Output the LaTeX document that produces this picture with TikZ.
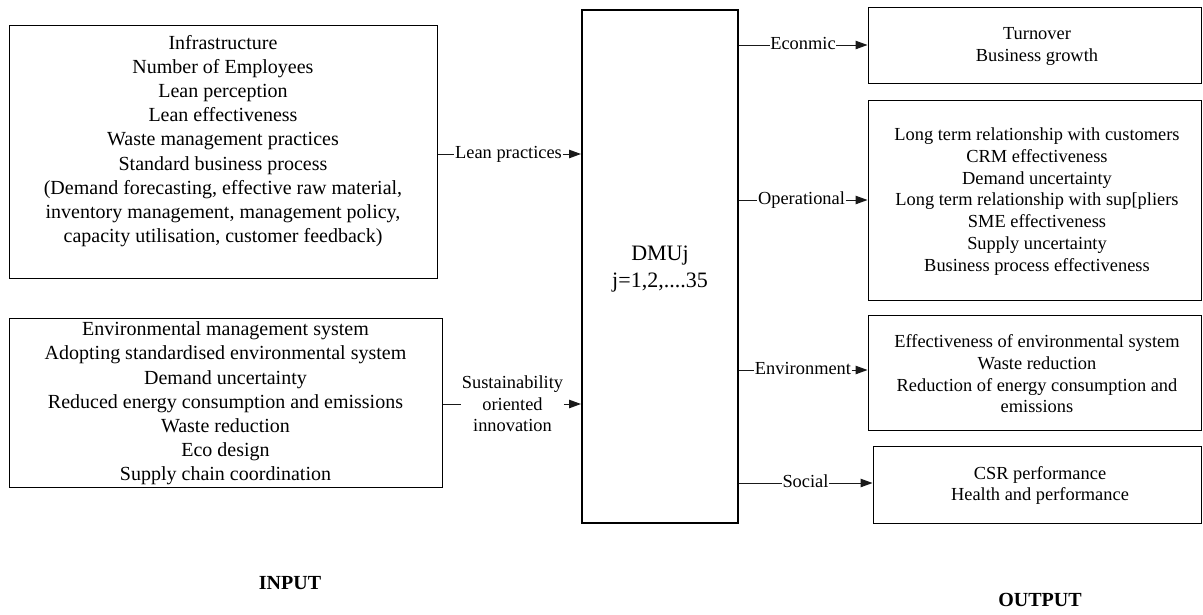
\documentclass[tikz,border=0pt]{standalone}
\usepackage{fontspec}
\setmainfont{Liberation Serif}
\usetikzlibrary{arrows.meta}
\tikzset{
  box/.style={draw=black, line width=1pt, rectangle, inner sep=0pt},
  dmubox/.style={draw=black, line width=2pt, rectangle, inner sep=0pt},
  lefttxt/.style={align=center, inner sep=0pt, font=\fontsize{20}{24.2}\selectfont},
  righttxt/.style={align=center, inner sep=0pt, font=\fontsize{18.4}{21.7}\selectfont},
  lbl/.style={align=center, inner xsep=0.5pt, inner ysep=0pt, text height=13pt, text depth=4pt, font=\fontsize{18.4}{21.5}\selectfont},
  mlbl/.style={align=center, inner xsep=0.5pt, inner ysep=0pt, font=\fontsize{18.4}{21.5}\selectfont},
  conn/.style={draw=black!90, line width=1pt},
  arr/.style={conn, -{Triangle[length=12pt,width=8.5pt]}},
  heading/.style={inner sep=0pt, font=\fontsize{20}{24}\selectfont\bfseries}
}
\begin{document}
\begin{tikzpicture}[x=1pt,y=-1pt]
\useasboundingbox (0,0) rectangle (1203,614);
% input boxes
\node[box, minimum width=428pt, minimum height=253pt] (lean) at (223,151.5) {};
\node[lefttxt] (leantxt) at (223,141) {Infrastructure\\Number of Employees\\Lean perception\\Lean effectiveness\\Waste management practices\\Standard business process\\(Demand forecasting, effective raw material,\\inventory management, management policy,\\capacity utilisation, customer feedback)};
\node[box, minimum width=433pt, minimum height=169pt] (sust) at (225.5,402.5) {};
\node[lefttxt] (susttxt) at (225.5,403.5) {Environmental management system\\Adopting standardised environmental system\\Demand uncertainty\\Reduced energy consumption and emissions\\Waste reduction\\Eco design\\Supply chain coordination};
% DMU
\node[dmubox, minimum width=156pt, minimum height=513pt] (dmu) at (660,266.5) {};
\node[align=center, inner sep=0pt, font=\fontsize{22}{27}\selectfont] (dmutxt) at (660,269.5) {DMUj\\j=1,2,....35};
% output boxes
\node[box, minimum width=333pt, minimum height=76pt] (turn) at (1034.5,45) {};
\node[righttxt] (turntxt) at (1037,46.5) {Turnover\\Business growth};
\node[box, minimum width=333pt, minimum height=200pt] (oper) at (1034.5,200) {};
\node[righttxt] (opertxt) at (1037,201.5) {Long term relationship with customers\\CRM effectiveness\\Demand uncertainty\\Long term relationship with sup[pliers\\SME effectiveness\\Supply uncertainty\\Business process effectiveness};
\node[box, minimum width=333pt, minimum height=115pt] (env) at (1034.5,372.5) {};
\node[righttxt] (envtxt) at (1037,374) {Effectiveness of environmental system\\Waste reduction\\Reduction of energy consumption and\\emissions};
\node[box, minimum width=328pt, minimum height=77pt] (soc) at (1037,484.5) {};
\node[righttxt] (soctxt) at (1040,485.5) {CSR performance\\Health and performance};
% labels
\node[lbl] (leanlbl) at (508.5,154) {Lean practices};
\node[mlbl] (sustlbl) at (512.5,404) {Sustainability\\oriented\\innovation};
\node[lbl] (econlbl) at (803,45) {Econmic};
\node[lbl] (operlbl) at (801.5,200) {Operational};
\node[lbl] (envlbl) at (803,370) {Environment};
\node[lbl] (soclbl) at (805.5,483) {Social};
% connectors
\draw[conn] (lean.east |- leanlbl.west) -- (leanlbl.west);
\draw[arr] (leanlbl.east) -- (dmu.west |- leanlbl.east);
\draw[conn] (sust.east |- sustlbl.west) -- (sustlbl.west);
\draw[arr] (sustlbl.east) -- (dmu.west |- sustlbl.east);
\draw[conn] (dmu.east |- econlbl.west) -- (econlbl.west);
\draw[arr] (econlbl.east) -- (turn.west |- econlbl.east);
\draw[conn] (dmu.east |- operlbl.west) -- (operlbl.west);
\draw[arr] (operlbl.east) -- (oper.west |- operlbl.east);
\draw[conn] (dmu.east |- envlbl.west) -- (envlbl.west);
\draw[arr] (envlbl.east) -- (env.west |- envlbl.east);
\draw[conn] (dmu.east |- soclbl.west) -- (soclbl.west);
\draw[arr] (soclbl.east) -- (soc.west |- soclbl.east);
% headings
\node[heading] (inputlbl) at (290,583) {INPUT};
\node[heading] (outputlbl) at (1040,600) {OUTPUT};
\end{tikzpicture}
\end{document}
